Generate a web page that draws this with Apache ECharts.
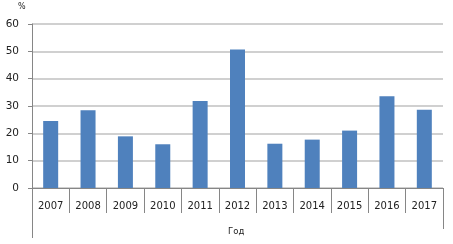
<!DOCTYPE html>
<html><head><meta charset="utf-8">
<script src="https://cdn.jsdelivr.net/npm/echarts@6/dist/echarts.min.js"></script>
<style>html,body{margin:0;padding:0;background:#fff}#c{width:453px;height:244px}</style>
</head><body><div id="c"></div>
<script>
const years = ['2007','2008','2009','2010','2011','2012','2013','2014','2015','2016','2017'];
const values = [24.5, 28.4, 18.9, 16.0, 31.8, 50.7, 16.2, 17.7, 21.0, 33.6, 28.6];
const yTicks = [0, 10, 20, 30, 40, 50, 60];
const yUnit = '%';
const xName = 'Год';

const chart = echarts.init(document.getElementById('c'), null, {renderer:'canvas'});
const font = 'DejaVu Sans';
chart.setOption({
  animation: false,
  grid: {left: 32, right: 10, top: 24, bottom: 56},
  xAxis: {
    type: 'category', data: years,
    axisLine: {lineStyle: {color: '#868686'}},
    axisTick: {show: true, length: 25, lineStyle: {color: '#868686'}},
    axisLabel: {color: '#222', fontFamily: font, fontSize: 10, margin: 13}
  },
  yAxis: {
    type: 'value', min: yTicks[0], max: yTicks[yTicks.length-1], interval: 10,
    axisLine: {show: true, lineStyle: {color: '#868686'}},
    axisTick: {show: true, length: 4, lineStyle: {color: '#868686'}},
    axisLabel: {color: '#222', fontFamily: font, fontSize: 10.5, margin: 13},
    splitLine: {lineStyle: {color: '#c0c0c0', width: 1.5}}
  },
  series: [{type: 'bar', data: values, barWidth: 15, itemStyle: {color: '#4f81bd'}}],
  graphic: [
    {type: 'text', left: 18, top: 3, style: {text: yUnit, fontFamily: font, fontSize: 8, fill: '#222'}},
    {type: 'text', left: 228, top: 227, style: {text: xName, fontFamily: font, fontSize: 8.5, fill: '#222'}},
    {type: 'line', shape: {x1: 32.5, y1: 188, x2: 32.5, y2: 238}, style: {stroke: '#868686', lineWidth: 1}},
    {type: 'line', shape: {x1: 443.5, y1: 188, x2: 443.5, y2: 229}, style: {stroke: '#868686', lineWidth: 1}}
  ]
});
</script></body></html>
